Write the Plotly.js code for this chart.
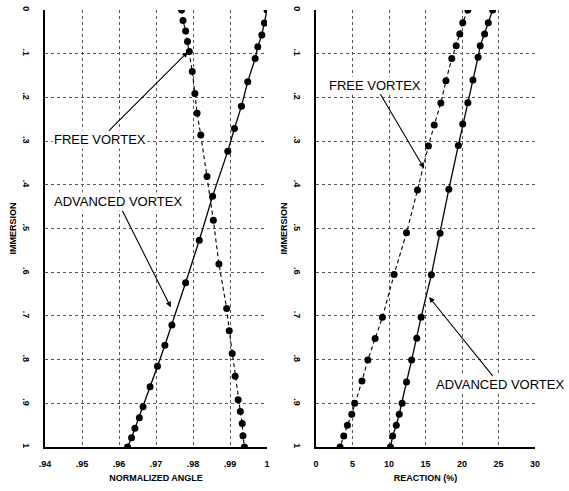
<!DOCTYPE html>
<html>
<head>
<meta charset="utf-8">
<script src="https://cdn.plot.ly/plotly-3.0.1.min.js"></script>
<style>html,body{margin:0;padding:0;background:#fff;}#chart{width:569px;height:491px;}</style>
</head>
<body>
<div id="chart"></div>
<script>
// Left panel: normalized angle vs immersion
var advAngleY = [0, .03, .057, .084, .111, .164, .22, .271, .323, .426, .527, .624, .721, .767, .815, .862, .908, .933, .957, .979, 1];
var advAngleX = [1.0, .9993, .9986, .9975, .9968, .9948, .9931, .9912, .9894, .9853, .9817, .9780, .9743, .9724, .9704, .9684, .9665, .9655, .9643, .9634, .9623];
var freeAngleY = [0, .024, .048, .072, .095, .141, .191, .236, .286, .381, .481, .581, .683, .734, .786, .838, .892, .919, .946, .974, 1];
var freeAngleX = [.9769, .9773, .9780, .9785, .9790, .9798, .9805, .9811, .9821, .9838, .9855, .9870, .9891, .9898, .9906, .9914, .9922, .9928, .9933, .9935, .9939];
// Right panel: reaction (%) vs immersion
var advReactY = [0, .029, .055, .082, .108, .160, .212, .261, .310, .410, .511, .606, .703, .751, .801, .851, .900, .925, .950, .975, 1];
var advReactX = [24.2, 23.6, 23.1, 22.5, 22.2, 21.5, 20.8, 20.1, 19.5, 18.2, 17.0, 15.8, 14.4, 13.8, 13.1, 12.4, 11.8, 11.4, 11.0, 10.5, 10.2];
var freeReactY = [0, .029, .055, .082, .111, .162, .213, .263, .311, .412, .510, .605, .703, .752, .801, .849, .900, .925, .950, .975, 1];
var freeReactX = [20.8, 20.1, 19.7, 19.2, 18.6, 17.8, 17.1, 16.2, 15.4, 13.9, 12.4, 10.7, 9.1, 8.1, 7.1, 6.3, 5.3, 4.9, 4.3, 3.8, 3.3];

var immersionTicks = [0, .1, .2, .3, .4, .5, .6, .7, .8, .9, 1];
var immersionLabels = ["0", ".1", ".2", ".3", ".4", ".5", ".6", ".7", ".8", ".9", "1"];
var angleTicks = [.94, .95, .96, .97, .98, .99, 1];
var angleLabels = [".94", ".95", ".96", ".97", ".98", ".99", "1"];
var reactTicks = [0, 5, 10, 15, 20, 25, 30];
var reactLabels = ["0", "5", "10", "15", "20", "25", "30"];

var FONT = "Liberation Sans Narrow, Liberation Sans, Arial, sans-serif";
var marker = {color: "#000", size: 7, symbol: "circle"};

var traces = [
  {x: advAngleX, y: advAngleY, xaxis: "x", yaxis: "y", mode: "lines+markers", name: "ADVANCED VORTEX",
   line: {color: "#000", width: 1.3}, marker: marker},
  {x: freeAngleX, y: freeAngleY, xaxis: "x", yaxis: "y", mode: "lines+markers", name: "FREE VORTEX",
   line: {color: "#000", width: 1.1, dash: "4px,3px"}, marker: marker},
  {x: advReactX, y: advReactY, xaxis: "x2", yaxis: "y2", mode: "lines+markers", name: "ADVANCED VORTEX",
   line: {color: "#000", width: 1.3}, marker: marker},
  {x: freeReactX, y: freeReactY, xaxis: "x2", yaxis: "y2", mode: "lines+markers", name: "FREE VORTEX",
   line: {color: "#000", width: 1.1, dash: "4px,3px"}, marker: marker}
];

var tickFont = {family: FONT, size: 9, color: "#000", weight: "bold"};
var titleFont = {family: FONT, size: 9, color: "#000", weight: "bold"};
var ydom = [1 - 447/491, 1 - 10/491];

function xAxis(dom, range, tv, tt, title, anchor) {
  return {domain: dom, range: range, tickvals: tv, ticktext: tt, anchor: anchor,
    showgrid: true, gridcolor: "#555", griddash: "dot", gridwidth: 1,
    showline: true, linecolor: "#000", linewidth: 1.6, zeroline: false, ticks: "",
    tickfont: tickFont, ticklabelstandoff: 8, automargin: false,
    title: {text: title, font: titleFont, standoff: 6}};
}
function yAxis(anchor) {
  return {domain: ydom, range: [1, 0], tickvals: immersionTicks, ticktext: immersionLabels, anchor: anchor,
    tickangle: 90, showgrid: true, gridcolor: "#555", griddash: "dot", gridwidth: 1,
    showline: true, linecolor: "#000", linewidth: 1.6, zeroline: false, ticks: "",
    tickfont: tickFont, ticklabelstandoff: 10, automargin: false,
    title: {text: "IMMERSION", font: titleFont, standoff: 2}};
}

var annFont = {family: "Liberation Sans, Arial, sans-serif", size: 13, color: "#000"};
function arrowAnn(xref, yref, x, y, ax, ay, text) {
  return {xref: xref, yref: yref, x: x, y: y, axref: xref, ayref: yref, ax: ax, ay: ay,
    text: text, font: annFont, showarrow: true, arrowhead: 2, arrowsize: 1, arrowwidth: 1.1,
    arrowcolor: "#000", bgcolor: "#fff"};
}

var layout = {
  width: 569, height: 491,
  margin: {l: 0, r: 0, t: 0, b: 0},
  paper_bgcolor: "#fff", plot_bgcolor: "#fff",
  showlegend: false,
  xaxis: xAxis([45/569, 267/569], [.94, 1], angleTicks, angleLabels, "NORMALIZED ANGLE", "y"),
  yaxis: yAxis("x"),
  xaxis2: xAxis([316/569, 535/569], [0, 30], reactTicks, reactLabels, "REACTION (%)", "y2"),
  yaxis2: yAxis("x2"),
  annotations: [
    arrowAnn("x", "y", .9786, .096, .9548, .297, "FREE VORTEX"),
    arrowAnn("x", "y", .9740, .680, .9597, .439, "ADVANCED VORTEX"),
    arrowAnn("x2", "y2", 14.8, .362, 8.1, .172, "FREE VORTEX"),
    arrowAnn("x2", "y2", 15.5, .657, 25.2, .858, "ADVANCED VORTEX")
  ]
};

Plotly.newPlot("chart", traces, layout, {displayModeBar: false, staticPlot: true});
</script>
</body>
</html>
